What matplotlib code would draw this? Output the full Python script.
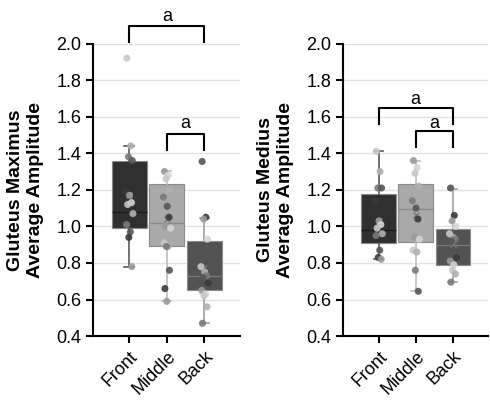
import numpy as np
import matplotlib
matplotlib.use("Agg")
import matplotlib.pyplot as plt

plt.rcParams['font.family'] = ['Liberation Sans', 'DejaVu Sans']

positions = ["Front", "Middle", "Back"]

# gluteus maximus, points per position
gmax_front = [1.92, 1.44, 1.38, 1.36, 1.19, 1.17, 1.13, 1.12, 1.07, 1.01, 0.97, 0.94, 0.78]
gmax_middle = [1.30, 1.28, 1.26, 1.20, 1.16, 1.11, 1.05, 1.00, 0.99, 0.91, 0.89, 0.89, 0.76, 0.66, 0.59]
gmax_back = [1.355, 1.05, 1.04, 0.93, 0.78, 0.75, 0.73, 0.72, 0.69, 0.65, 0.63, 0.62, 0.56, 0.47]

# gluteus medius
gmed_front = [1.41, 1.30, 1.21, 1.21, 1.14, 1.03, 1.01, 0.99, 0.96, 0.95, 0.87, 0.83, 0.82]
gmed_middle = [1.36, 1.32, 1.29, 1.22, 1.14, 1.10, 1.04, 0.94, 0.93, 0.87, 0.86, 0.76, 0.645]
gmed_back = [1.21, 1.06, 1.03, 1.00, 0.96, 0.94, 0.93, 0.92, 0.83, 0.81, 0.79, 0.76, 0.74, 0.695]

# box stats (q1, median, q3, whisker low, whisker high, mean)
gmax_q1 = [0.99, 0.89, 0.65]
gmax_med = [1.08, 1.02, 0.73]
gmax_q3 = [1.36, 1.23, 0.92]
gmax_lo = [0.78, 0.59, 0.47]
gmax_hi = [1.44, 1.305, 1.045]
gmax_mean = [1.17, 1.04, 0.77]

gmed_q1 = [0.91, 0.915, 0.79]
gmed_med = [0.98, 1.093, 0.90]
gmed_q3 = [1.175, 1.23, 0.984]
gmed_lo = [0.82, 0.645, 0.695]
gmed_hi = [1.41, 1.36, 1.207]
gmed_mean = [1.03, 1.064, 0.905]

box_colors = ["#303030", "#a9a9a9", "#525252"]
whisk_colors = ["#5a5a5a", "#bdbdbd", "#a0a0a0"]
med_colors = ["#1a1a1a", "#8a8a8a", "#7a7a7a"]
shades = ["#3a3a3a", "#7a7a7a", "#c8c8c8", "#9a9a9a", "#555555", "#b0b0b0", "#d5d5d5"]
jit = [-0.06, 0.04, -0.02, 0.08, -0.09, 0.01, 0.06, -0.04, 0.10, -0.07, 0.03, -0.01, 0.07, -0.05, 0.0]


def panel(ax, groups, q1, med, q3, lo, hi, mean, ylabel):
    for i in range(3):
        st = dict(q1=q1[i], med=med[i], q3=q3[i], whislo=lo[i],
                  whishi=hi[i], mean=mean[i], fliers=[])
        ax.bxp([st], positions=[i], widths=0.93, patch_artist=True,
               showmeans=True, showfliers=False,
               boxprops=dict(facecolor=box_colors[i], edgecolor="#8a8a8a", linewidth=0.8),
               whiskerprops=dict(color=whisk_colors[i], linewidth=1.2),
               capprops=dict(color=whisk_colors[i], linewidth=1.2),
               medianprops=dict(color=med_colors[i], linewidth=1.0),
               meanprops=dict(marker="x", markeredgecolor="#777777", markersize=5),
               capwidths=0.25, zorder=2)
        vals = groups[i]
        xs = i + np.array(jit[:len(vals)])
        cols = [shades[(k * 3 + i + 2) % len(shades)] for k in range(len(vals))]
        ax.scatter(xs, vals, s=26, c=cols, alpha=0.9, edgecolors="none", zorder=3)

    ax.set_ylim(0.4, 2.0)
    ax.set_xlim(-0.96, 2.95)
    ticks = np.arange(0.4, 2.01, 0.2)
    ax.set_yticks(ticks)
    ax.set_yticklabels(["%.1f" % v for v in ticks], fontsize=13)
    ax.set_xticks(range(3))
    ax.set_xticklabels(positions, rotation=45, ha="right", rotation_mode="anchor", fontsize=13)
    ax.yaxis.grid(True, color="#e2e2e2", linewidth=1)
    ax.set_axisbelow(True)
    for s in ["top", "right"]:
        ax.spines[s].set_visible(False)
    for s in ["left", "bottom"]:
        ax.spines[s].set_linewidth(1.5)
    ax.tick_params(direction="out", length=5, width=1.5)
    ax.set_ylabel(ylabel, fontsize=14, fontweight="bold", labelpad=9)


def bracket(ax, x0, x1, top, bottom, label_y):
    ax.plot([x0, x0, x1, x1], [bottom, top, top, bottom], color="black",
            linewidth=1.5, clip_on=False, zorder=5)
    ax.text((x0 + x1) / 2, label_y, "a", ha="center", va="center", fontsize=13)


fig = plt.figure(figsize=(4.9, 4.03), dpi=100)
ax1 = fig.add_axes([0.19, 0.166, 0.30, 0.726])
ax2 = fig.add_axes([0.70, 0.166, 0.296, 0.726])

panel(ax1, [gmax_front, gmax_middle, gmax_back], gmax_q1, gmax_med, gmax_q3,
      gmax_lo, gmax_hi, gmax_mean, "Gluteus Maximus\nAverage Amplitude")
panel(ax2, [gmed_front, gmed_middle, gmed_back], gmed_q1, gmed_med, gmed_q3,
      gmed_lo, gmed_hi, gmed_mean, "Gluteus Medius\nAverage Amplitude")

bracket(ax1, 0, 2, 2.094, 2.007, 2.15)
bracket(ax1, 1, 2, 1.505, 1.42, 1.56)
bracket(ax2, 0, 2, 1.645, 1.56, 1.695)
bracket(ax2, 1, 2, 1.52, 1.436, 1.565)

fig.savefig("out.png", dpi=100)
